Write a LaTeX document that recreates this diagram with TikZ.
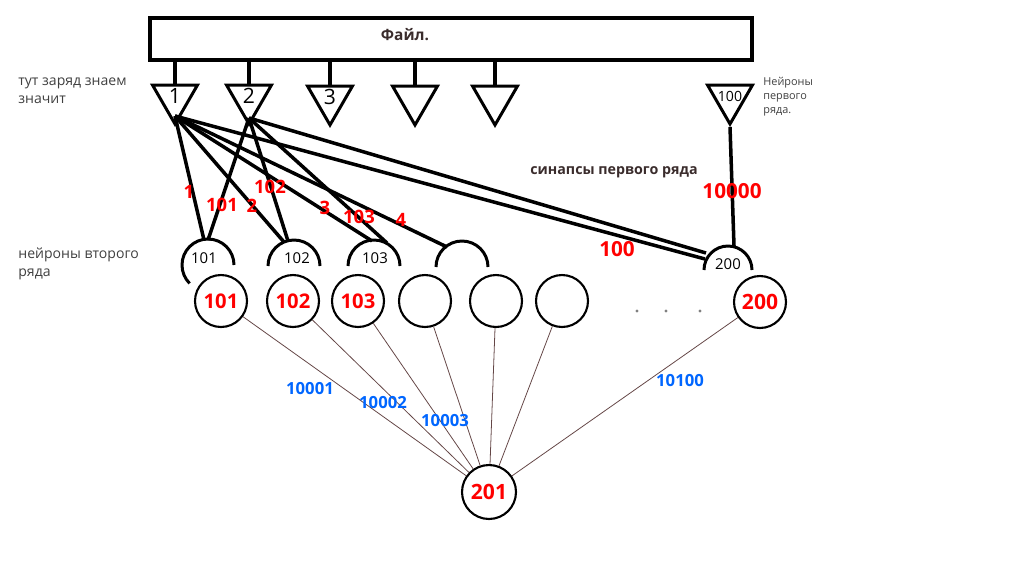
\documentclass[tikz,border=0pt]{standalone}
\usepackage{fontspec}
\setmainfont{Open Sans}
\usetikzlibrary{shapes.geometric}
\definecolor{inkbrown}{RGB}{58,44,44}
\definecolor{txtgray}{RGB}{64,64,64}
\definecolor{lblblue}{RGB}{0,102,255}
\definecolor{wirebrown}{RGB}{100,70,70}

\begin{document}
\begin{tikzpicture}[x=0.02cm, y=0.02cm,
    tri/.style={regular polygon, regular polygon sides=3, shape border rotate=180, draw, line width=1.7pt, minimum size=1.04cm, inner sep=0pt},
    trilbl/.style={font=\fontsize{12}{14}\selectfont, inner sep=0pt, yshift=1pt},
    neuron/.style={circle, draw, line width=1.2pt, minimum size=1.04cm, inner sep=0pt, text=red, font=\fontsize{11.5}{13}\selectfont\bfseries},
    syn/.style={line width=2pt},
    dend/.style={line width=1.7pt},
    dendlbl/.style={font=\fontsize{8.5}{10}\selectfont, inner sep=0pt},
    wire/.style={wirebrown, line width=0.45pt},
    redlbl/.style={text=red, font=\fontsize{10.5}{12}\selectfont\bfseries, inner sep=0pt},
    bigred/.style={text=red, font=\fontsize{11.8}{13}\selectfont\bfseries, inner sep=0pt},
    bluelbl/.style={text=lblblue, font=\fontsize{9.5}{11}\selectfont\bfseries, inner sep=0pt},
    note/.style={anchor=west, align=left, text=txtgray, font=\fontsize{8}{10.2}\selectfont, inner sep=0pt}
]
\useasboundingbox (0,0) rectangle (1023,-579);

% File box
\node[draw, line width=2.3pt, minimum width=12.04cm, minimum height=0.84cm, inner sep=0pt] (file) at (451,-39) {};
\node[text=inkbrown, font=\fontsize{8.8}{10}\selectfont\bfseries] (filetxt) at (405,-35) {Файл.};

% First row neurons
\node[tri, label={[trilbl]center:1}] (t1) at (175,-98) {};
\node[tri, label={[trilbl]center:2}] (t2) at (249,-98) {};
\node[tri, label={[trilbl]center:3}] (t3) at (330,-99) {};
\node[tri] (t4) at (415,-99) {};
\node[tri] (t5) at (495,-99) {};
\node[tri, label={[trilbl, font=\fontsize{8}{9}\selectfont]center:100}] (t100) at (730,-98) {};
\foreach \t in {t1,t2,t3,t4,t5}
    \draw[syn] (\t.90) -- (\t.90 |- file.south);

% Notes
\node[note] (note1) at (18,-91) {тут заряд знаем\\значит};
\node[note] (note2) at (18,-264) {нейроны второго\\ряда};
\node[note, font=\fontsize{6.2}{8}\selectfont] (note3) at (763,-97) {Нейроны\\первого\\ряда.};
\node[text=inkbrown, font=\fontsize{8.1}{10}\selectfont\bfseries] (syntxt) at (614,-172) {синапсы первого ряда};

% Dendrites of second row
\coordinate (d101) at (208,-265);
\coordinate (d102) at (294,-266);
\coordinate (d103) at (374,-266);
\coordinate (d4) at (462,-267);
\coordinate (d200) at (728,-270);
\draw[dend] (d101) ++(26,0) arc (0:225:26);
\foreach \d in {d102,d103,d4}
    \draw[dend] (\d) ++(26,0) arc (0:180:26);
\draw[dend] (d200) ++(24,0) arc (0:180:24);
\node[dendlbl] (l101) at (204,-258) {101};
\node[dendlbl] (l102) at (297,-258) {102};
\node[dendlbl] (l103) at (375,-258) {103};
\node[dendlbl] (l200) at (728,-264) {200};

% Synapses
\coordinate (s1) at (175,-116);
\coordinate (s2) at (249,-118);
\coordinate (e1a) at (204,-240);
\coordinate (e2a) at (208,-240);
\coordinate (e1b) at (284,-242);
\coordinate (e2b) at (288,-241);
\coordinate (e1c) at (372,-241);
\coordinate (e2c) at (387,-243);
\coordinate (e1d) at (447,-247);
\coordinate (e1e) at (705,-259);
\coordinate (e2e) at (706,-253);
\coordinate (e100) at (734,-246);
\foreach \e in {e1a,e1b,e1c,e1d,e1e}
    \draw[syn] (s1) -- (\e);
\foreach \e in {e2a,e2b,e2c,e2e}
    \draw[syn] (s2) -- (\e);
\draw[syn] (t100.270) -- (e100);

% Synapse weights
\node[redlbl] (w1) at (189,-192) {1};
\node[redlbl] (w101) at (222,-205) {101};
\node[redlbl] (w2) at (252,-206) {2};
\node[redlbl] (w102) at (270,-187) {102};
\node[redlbl] (w3) at (325,-208) {3};
\node[redlbl] (w103) at (359,-217) {103};
\node[redlbl] (w4) at (401,-220) {4};
\node[bigred] (w100) at (617,-249) {100};
\node[bigred] (w10000) at (732,-191) {10000};

% Second row neurons
\node[neuron] (n101) at (221,-301) {101};
\node[neuron] (n102) at (293,-301) {102};
\node[neuron] (n103) at (358,-301) {103};
\node[neuron] (n4) at (425,-301) {};
\node[neuron] (n5) at (496,-301) {};
\node[neuron] (n6) at (562,-301) {};
\node[neuron, font=\fontsize{12}{13}\selectfont\bfseries] (n200) at (760,-302) {200};
\foreach \x in {637,666,700}
    \fill[gray] (\x,-311) circle (1.6);

% Output neuron
\node[neuron, minimum size=1.08cm, font=\fontsize{12}{13}\selectfont\bfseries] (n201) at (489,-492) {201};
\foreach \n in {n101,n102,n103,n4,n5,n6,n200}
    \draw[wire] (\n) -- (n201);

% Output weights
\node[bluelbl] (v1) at (310,-389) {10001};
\node[bluelbl] (v2) at (383,-403) {10002};
\node[bluelbl] (v3) at (445,-421) {10003};
\node[bluelbl] (v100) at (680,-381) {10100};

\end{tikzpicture}
\end{document}
